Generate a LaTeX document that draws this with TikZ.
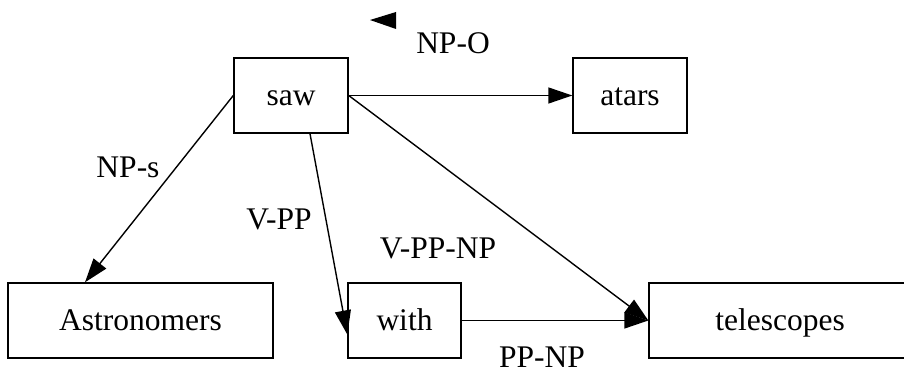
\documentclass[tikz,border=0pt]{standalone}
\usepackage{fontspec}
\setmainfont{Liberation Serif}
\usepackage{tikz}
\usetikzlibrary{shapes, arrows.meta}
\tikzstyle{wcell} = [rectangle, draw, line width=1.4pt, minimum height=75pt, inner sep=0pt, text centered, text height=23pt, text depth=3pt, font=\fontsize{31.5}{36}\selectfont]
\tikzstyle{elabel} = [inner sep=0pt, font=\fontsize{31.5}{36}\selectfont]
\tikzstyle{line} = [draw, line width=1.4pt, -{Triangle[length=24pt, width=16pt]}]

\begin{document}
\begin{tikzpicture}[x=1pt, y=1pt]
    \useasboundingbox (0,0) rectangle (904,374);
    \node[wcell, minimum width=114pt](saw) at (291,278.5){saw};
    \node[wcell, minimum width=114pt](atars) at (630,278.5){atars};
    \node[wcell, minimum width=265pt](astro) at (140.5,53.5){Astronomers};
    \node[wcell, minimum width=113pt](with) at (404.5,53.5){with};
    \node[wcell, minimum width=262pt](tele) at (780,53.5){telescopes};

    % loose arrowhead near NP-O
    \fill (370,354) -- (396,362) -- (396,345) -- cycle;

    \node[elabel](lnpo) at (453,331){NP-O};
    \node[elabel](lnps) at (128,207){NP-s};
    \node[elabel](lvpp) at (279,155){V-PP};
    \node[elabel](lvppnp) at (438,126){V-PP-NP};
    \node[elabel](lppnp) at (542,17){PP-NP};

    \path[line] (saw.west)   -- ([xshift=-55.5pt]astro.north);
    \path[line] ([xshift=19pt]saw.south) -- ([yshift=-14pt]with.west);
    \path[line] (saw.east)   -- (atars.west);
    \path[line] (saw.east)   -- (tele.west);
    \path[line] (with.east)  -- (tele.west);
\end{tikzpicture}
\end{document}
